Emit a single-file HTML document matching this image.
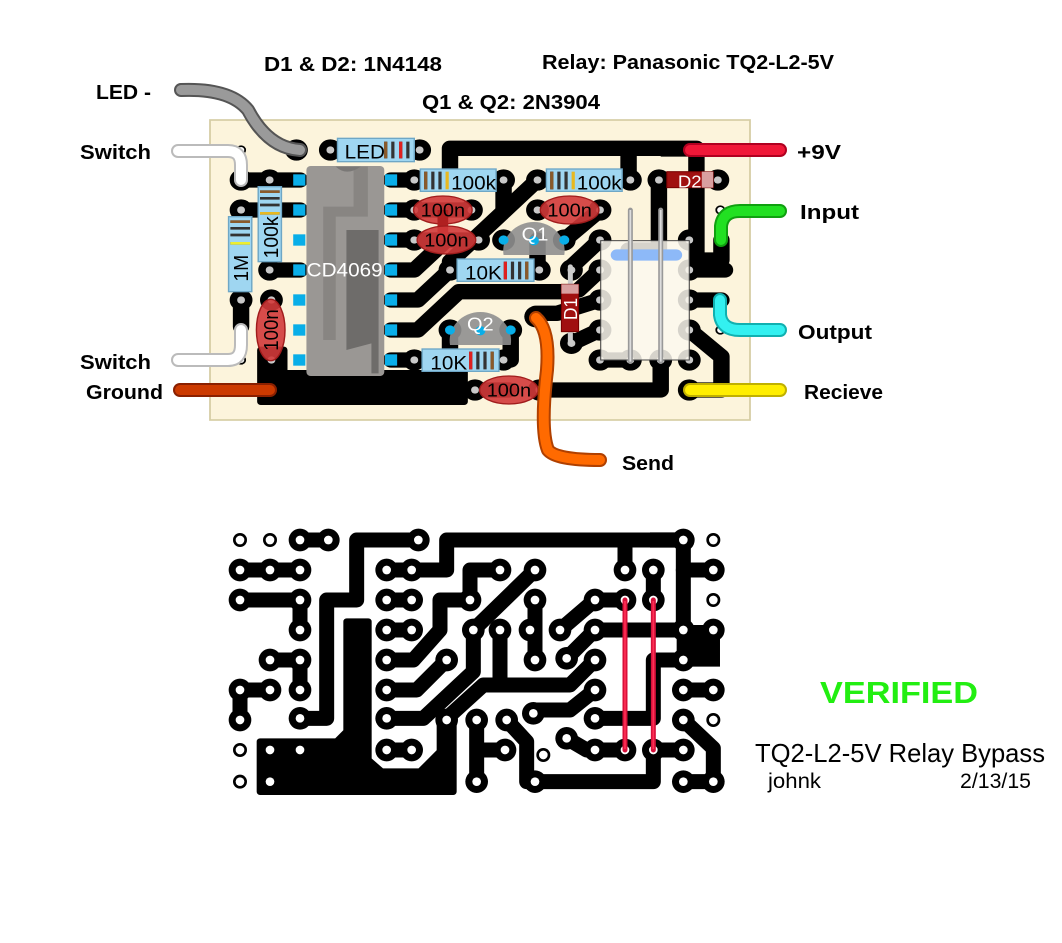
<!DOCTYPE html>
<html><head><meta charset="utf-8"><style>
html,body{margin:0;padding:0;background:#fff;width:1062px;height:943px;overflow:hidden}
svg{display:block}
.lb{font-family:"Liberation Sans",sans-serif;font-weight:bold;font-size:20px;fill:#000}
</style></head><body>
<svg width="1062" height="943" viewBox="0 0 1062 943" xmlns="http://www.w3.org/2000/svg">
<defs>
<g id="bp"><circle r="34" fill="#000"/><circle r="13" fill="#fff"/></g>
<g id="bs"><circle r="21" fill="#000"/><circle r="13" fill="#fff"/></g>
<g id="tp"><circle r="32" fill="#000"/><circle r="11" fill="#c8c8c8"/></g>
<g id="tw"><circle r="14" fill="#000"/><circle r="9" fill="#fff"/></g>
<rect id="pin" x="-17" y="-17" width="34" height="34" fill="#09aee8"/>
</defs>

<!-- ================= TOP BOARD ================= -->
<g transform="matrix(0.35714,0,0,0.33333,200,110)">
<rect x="28" y="30" width="1512" height="900" fill="#fcf4dc" stroke="#d6cda4" stroke-width="5"/>
<g fill="none" stroke="#000" stroke-width="46" stroke-linecap="round" stroke-linejoin="round">
<path d="M115 210H280M115 300H280M195 480H280"/>
<path d="M115 570V650"/>
<path d="M535 210H600M535 300H760M535 390H780"/>
<path d="M535 480H600L690 390M535 570H610L700 480M535 660H610L725 545H1020M535 750H600"/>
<path d="M945 210L700 455"/>
<path d="M700 210V115H1390V450H1460V390M1200 115V210"/>
<path d="M850 210V300M1285 210V420L1200 420"/>
<path d="M1120 390L1040 470V480M1120 480L1060 540M1120 570L1000 610H940"/>
<path d="M1120 660L1040 700M1120 750H1205M1290 750V840H950"/>
<path d="M1370 480H1470M1370 570H1460M1370 660L1460 740V840H1370"/>
<path d="M870 660V750M770 840H865M700 660V700L700 720"/>
<path d="M1020 390L1120 300"/>
<path d="M945 390V480"/>
</g>
<path d="M170 720H235V790H700V750H740V875H170Z" fill="#000" stroke="#000" stroke-width="20" stroke-linejoin="round"/>
<path d="M1290 100H1400V140H1290Z" fill="#000"/>
<g>
<use href="#tw" x="115" y="120"/><use href="#tp" x="270" y="120"/><use href="#tp" x="365" y="120"/><use href="#tp" x="615" y="120"/>
<use href="#tp" x="115" y="210"/><use href="#tp" x="195" y="210"/><use href="#tp" x="600" y="210"/><use href="#tp" x="850" y="210"/><use href="#tp" x="945" y="210"/><use href="#tp" x="1205" y="210"/><use href="#tp" x="1285" y="210"/><use href="#tp" x="1450" y="210"/>
<use href="#tp" x="115" y="300"/><use href="#tp" x="600" y="300"/><use href="#tp" x="760" y="300"/><use href="#tp" x="945" y="300"/><use href="#tp" x="1120" y="300"/><use href="#tw" x="1457" y="300"/>
<use href="#tp" x="600" y="390"/><use href="#tp" x="780" y="390"/><use href="#tp" x="850" y="390"/><use href="#tp" x="1020" y="390"/><use href="#tp" x="1120" y="390"/><use href="#tp" x="1370" y="390"/>
<use href="#tp" x="195" y="480"/><use href="#tp" x="700" y="480"/><use href="#tp" x="950" y="480"/><use href="#tp" x="1040" y="480"/><use href="#tp" x="1120" y="480"/><use href="#tp" x="1370" y="480"/>
<use href="#tp" x="115" y="570"/><use href="#tp" x="200" y="570"/><use href="#tp" x="1120" y="570"/><use href="#tp" x="1370" y="570"/><use href="#tp" x="940" y="620"/>
<use href="#tp" x="700" y="660"/><use href="#tp" x="870" y="660"/><use href="#tp" x="1120" y="660"/><use href="#tp" x="1370" y="660"/><use href="#tw" x="1457" y="660"/>
<use href="#tw" x="115" y="750"/><use href="#tp" x="200" y="750"/><use href="#tp" x="600" y="750"/><use href="#tp" x="850" y="750"/><use href="#tp" x="1040" y="700"/><use href="#tp" x="1120" y="750"/><use href="#tp" x="1205" y="750"/><use href="#tp" x="1290" y="750"/><use href="#tp" x="1370" y="750"/>
<use href="#tp" x="770" y="840"/><use href="#tp" x="950" y="840"/><use href="#tp" x="1370" y="840"/>
</g>
<!-- IC -->
<rect x="298" y="168" width="218" height="630" rx="12" fill="#9a9794"/>
<path d="M345 290H430V170H470V320H380V690H345Z" fill="#888582"/>
<path d="M410 360H500V790H480V700L410 720Z" fill="#6e6c6a"/>
<path d="M380 170Q410 200 450 170" fill="#7a7876"/>
<g>
<use href="#pin" x="278" y="210"/><use href="#pin" x="278" y="300"/><use href="#pin" x="278" y="390"/><use href="#pin" x="278" y="480"/><use href="#pin" x="278" y="570"/><use href="#pin" x="278" y="660"/><use href="#pin" x="278" y="750"/>
<use href="#pin" x="535" y="210"/><use href="#pin" x="535" y="300"/><use href="#pin" x="535" y="390"/><use href="#pin" x="535" y="480"/><use href="#pin" x="535" y="570"/><use href="#pin" x="535" y="660"/><use href="#pin" x="535" y="750"/>
</g>
<text x="405" y="500" font-family="Liberation Sans,sans-serif" font-size="58" fill="#fff" text-anchor="middle">CD4069</text>
<!-- Relay -->
<rect x="1122" y="392" width="248" height="358" fill="#fbf8ee" fill-opacity="0.85" stroke="#444" stroke-width="3"/>
<rect x="1150" y="418" width="200" height="34" rx="17" fill="#8db9f8"/>
<path d="M1205 300V755M1290 300V755" stroke="#999" stroke-width="14" stroke-linecap="round"/>
<path d="M1205 300V755M1290 300V755" stroke="#ddd" stroke-width="5"/>
<!-- transistors -->
<path d="M850 435A86 86 0 1 1 1020 435Z" fill="#8f8f8f" fill-opacity="0.9"/>
<circle cx="850" cy="390" r="14" fill="#09aee8"/><circle cx="935" cy="392" r="14" fill="#09aee8"/><circle cx="1020" cy="390" r="14" fill="#09aee8"/>
<text x="938" y="392" font-family="Liberation Sans,sans-serif" font-size="56" fill="#fff" text-anchor="middle">Q1</text>
<path d="M700 705A86 86 0 1 1 870 705Z" fill="#8f8f8f" fill-opacity="0.9"/>
<circle cx="700" cy="660" r="14" fill="#09aee8"/><circle cx="785" cy="662" r="14" fill="#09aee8"/><circle cx="870" cy="660" r="14" fill="#09aee8"/>
<text x="785" y="662" font-family="Liberation Sans,sans-serif" font-size="56" fill="#fff" text-anchor="middle">Q2</text>
<!-- resistors -->
<g font-family="Liberation Sans,sans-serif" font-size="58" fill="#000">
<rect x="385" y="85" width="215" height="70" fill="#9fd6f1" stroke="#6ea7c6" stroke-width="4"/>
<path d="M520 95V145M540 95V145M562 95V145M582 95V145" stroke-width="9" stroke="#333"/><path d="M562 95V145" stroke="#e02020" stroke-width="9"/><path d="M520 95V145" stroke="#8a5a2a" stroke-width="9"/>
<text x="405" y="145">LED</text>
<rect x="617" y="177" width="212" height="67" fill="#9fd6f1" stroke="#6ea7c6" stroke-width="4"/>
<path d="M632 185V238M652 185V238M672 185V238" stroke="#333" stroke-width="9"/><path d="M632 185V238" stroke="#8a5a2a" stroke-width="9"/><path d="M692 185V238" stroke="#e8b820" stroke-width="9"/>
<text x="703" y="238">100k</text>
<rect x="970" y="177" width="212" height="67" fill="#9fd6f1" stroke="#6ea7c6" stroke-width="4"/>
<path d="M985 185V238M1005 185V238M1025 185V238" stroke="#333" stroke-width="9"/><path d="M985 185V238" stroke="#8a5a2a" stroke-width="9"/><path d="M1045 185V238" stroke="#e8b820" stroke-width="9"/>
<text x="1055" y="238">100k</text>
<rect x="720" y="447" width="215" height="67" fill="#9fd6f1" stroke="#6ea7c6" stroke-width="4"/>
<path d="M855 455V508M875 455V508M895 455V508M915 455V508" stroke="#333" stroke-width="9"/><path d="M855 455V508" stroke="#e02020" stroke-width="9"/><path d="M915 455V508" stroke="#8a5a2a" stroke-width="9"/>
<text x="742" y="508">10K</text>
<rect x="622" y="717" width="215" height="67" fill="#9fd6f1" stroke="#6ea7c6" stroke-width="4"/>
<path d="M758 725V778M778 725V778M798 725V778M818 725V778" stroke="#333" stroke-width="9"/><path d="M758 725V778" stroke="#e02020" stroke-width="9"/><path d="M818 725V778" stroke="#8a5a2a" stroke-width="9"/>
<text x="645" y="778">10K</text>
<rect x="80" y="320" width="65" height="225" fill="#9fd6f1" stroke="#6ea7c6" stroke-width="4"/>
<path d="M85 335H140M85 355H140M85 375H140M85 400H140" stroke="#333" stroke-width="8"/><path d="M85 335H140" stroke="#8a5a2a" stroke-width="8"/><path d="M85 400H140" stroke="#eeee30" stroke-width="8"/>
<text transform="translate(135 515) rotate(-90)">1M</text>
<rect x="163" y="230" width="65" height="225" fill="#9fd6f1" stroke="#6ea7c6" stroke-width="4"/>
<path d="M168 245H223M168 265H223M168 285H223M168 310H223" stroke="#333" stroke-width="8"/><path d="M168 245H223" stroke="#8a5a2a" stroke-width="8"/><path d="M168 310H223" stroke="#e8b820" stroke-width="8"/>
<text transform="translate(218 445) rotate(-90)">100k</text>
</g>
<!-- caps -->
<g font-family="Liberation Sans,sans-serif" font-size="56" fill="#000" text-anchor="middle">
<ellipse cx="680" cy="300" rx="82" ry="42" fill="#d23a3a" fill-opacity="0.9" stroke="#a01c1c" stroke-width="4"/>
<rect x="665" y="300" width="30" height="90" fill="#b02020"/>
<ellipse cx="690" cy="390" rx="82" ry="42" fill="#d23a3a" fill-opacity="0.9" stroke="#a01c1c" stroke-width="4"/>
<text x="680" y="320">100n</text><text x="690" y="410">100n</text>
<ellipse cx="1035" cy="300" rx="82" ry="42" fill="#d23a3a" fill-opacity="0.9" stroke="#a01c1c" stroke-width="4"/>
<text x="1035" y="320">100n</text>
<ellipse cx="865" cy="840" rx="82" ry="42" fill="#d23a3a" fill-opacity="0.9" stroke="#a01c1c" stroke-width="4"/>
<text x="865" y="860">100n</text>
<ellipse cx="198" cy="660" rx="40" ry="92" fill="#d23a3a" fill-opacity="0.9" stroke="#a01c1c" stroke-width="4"/>
<text transform="translate(218 660) rotate(-90)">100n</text>
</g>
<!-- diodes -->
<path d="M1037 470V700" stroke="#ccc" stroke-width="14" stroke-linecap="round"/>
<rect x="1012" y="523" width="48" height="142" fill="#a01010" stroke="#700" stroke-width="3"/>
<rect x="1012" y="523" width="48" height="28" fill="#d9a0a0"/>
<text transform="translate(1055 630) rotate(-90)" font-family="Liberation Sans,sans-serif" font-size="52" fill="#fff">D1</text>
<rect x="1307" y="185" width="130" height="48" fill="#a01010" stroke="#700" stroke-width="3"/>
<rect x="1405" y="185" width="32" height="48" fill="#d9a0a0"/>
<text x="1338" y="232" font-family="Liberation Sans,sans-serif" font-size="52" fill="#fff">D2</text>
</g>

<!-- wires (screen coords) -->
<g fill="none" stroke-linecap="round" stroke-linejoin="round">
<path d="M181 90Q230 88 248 110Q268 148 300 150" stroke="#555" stroke-width="14"/>
<path d="M181 90Q230 88 248 110Q268 148 300 150" stroke="#9a9a9a" stroke-width="10"/>
<path d="M178 151H228Q241 151 241 165V180" stroke="#bbb" stroke-width="14"/>
<path d="M178 151H228Q241 151 241 165V180" stroke="#fff" stroke-width="10"/>
<path d="M178 360H228Q241 360 241 345V330" stroke="#bbb" stroke-width="14"/>
<path d="M178 360H228Q241 360 241 345V330" stroke="#fff" stroke-width="10"/>
<path d="M180 390H270" stroke="#8a2000" stroke-width="14"/><path d="M180 390H270" stroke="#cc3a00" stroke-width="10"/>
<path d="M690 150H780" stroke="#b00020" stroke-width="14"/><path d="M690 150H780" stroke="#f01838" stroke-width="10"/>
<path d="M721 240V226Q723 211 740 211H780" stroke="#10a010" stroke-width="14"/><path d="M721 240V226Q723 211 740 211H780" stroke="#22e022" stroke-width="10"/>
<path d="M720 300V315Q722 330 740 330H780" stroke="#10b0b0" stroke-width="14"/><path d="M720 300V315Q722 330 740 330H780" stroke="#33f0f0" stroke-width="10"/>
<path d="M690 390H780" stroke="#c0b000" stroke-width="14"/><path d="M690 390H780" stroke="#ffee00" stroke-width="10"/>
<path d="M536 318Q550 330 547 370Q540 430 548 450Q556 460 600 460" stroke="#b04000" stroke-width="14"/>
<path d="M536 318Q550 330 547 370Q540 430 548 450Q556 460 600 460" stroke="#ff6a00" stroke-width="10"/>
</g>

<!-- ================= BOTTOM BOARD ================= -->
<g transform="translate(220,515) scale(0.33333)">
<g fill="none" stroke="#000" stroke-width="45" stroke-linecap="round" stroke-linejoin="round">
<path d="M240 75H325"/>
<path d="M595 75H410V255H320V610H240"/>
<path d="M500 165H680V75H1390V345"/>
<path d="M1215 75V165"/>
<path d="M60 165H240"/>
<path d="M840 165H750V255H660V345L580 435H500"/>
<path d="M945 165L760 345V470L610 610H500"/>
<path d="M680 435L590 525H500"/>
<path d="M680 610L790 510H1050L1125 435M840 345V510"/>
<path d="M1300 165V255M1390 165H1480"/>
<path d="M60 255H240V345"/>
<path d="M500 255H575M500 345H575M500 705H575"/>
<path d="M945 255V435"/>
<path d="M1125 255L1020 345M1125 255H1215"/>
<path d="M1125 345H1390M1125 345L1040 430"/>
<path d="M150 435H240V525"/>
<path d="M60 525H150M60 525V615"/>
<path d="M1125 525L1050 585H940"/>
<path d="M1390 525H1480"/>
<path d="M1390 435H1300V610H1125"/>
<path d="M770 615V800M770 705H855"/>
<path d="M860 615L920 680V800H1300V705H1390"/>
<path d="M1040 670L1100 705H1215"/>
<path d="M1390 615L1480 700V800H1390"/>
</g>
<path d="M1290 52H1410V98H1290Z" fill="#000"/>
<path d="M1370 330H1500V455H1370Z" fill="#000"/>
<path d="M120 680H350L380 650V320H445V735L485 770H600L660 710V610H700V830H120Z" fill="#000" stroke="#000" stroke-width="20" stroke-linejoin="round"/>
<g>
<use href="#bp" x="240" y="75"/><use href="#bp" x="325" y="75"/><use href="#bp" x="595" y="75"/><use href="#bp" x="1390" y="75"/>
<use href="#bs" x="60" y="75"/><use href="#bs" x="150" y="75"/><use href="#bs" x="1480" y="75"/>
<use href="#bp" x="60" y="165"/><use href="#bp" x="150" y="165"/><use href="#bp" x="240" y="165"/><use href="#bp" x="500" y="165"/><use href="#bp" x="575" y="165"/><use href="#bp" x="840" y="165"/><use href="#bp" x="945" y="165"/><use href="#bp" x="1215" y="165"/><use href="#bp" x="1300" y="165"/><use href="#bp" x="1480" y="165"/>
<use href="#bp" x="60" y="255"/><use href="#bp" x="240" y="255"/><use href="#bp" x="500" y="255"/><use href="#bp" x="575" y="255"/><use href="#bp" x="750" y="255"/><use href="#bp" x="945" y="255"/><use href="#bp" x="1125" y="255"/><use href="#bp" x="1215" y="255"/><use href="#bp" x="1300" y="255"/><use href="#bs" x="1480" y="255"/>
<use href="#bp" x="240" y="345"/><use href="#bp" x="500" y="345"/><use href="#bp" x="575" y="345"/><use href="#bp" x="760" y="345"/><use href="#bp" x="840" y="345"/><use href="#bp" x="930" y="345"/><use href="#bp" x="1020" y="345"/><use href="#bp" x="1125" y="345"/><use href="#bp" x="1390" y="345"/><use href="#bp" x="1480" y="345"/>
<use href="#bp" x="150" y="435"/><use href="#bp" x="240" y="435"/><use href="#bp" x="500" y="435"/><use href="#bp" x="680" y="435"/><use href="#bp" x="945" y="435"/><use href="#bp" x="1040" y="430"/><use href="#bp" x="1125" y="435"/><use href="#bp" x="1390" y="435"/>
<use href="#bp" x="60" y="525"/><use href="#bp" x="150" y="525"/><use href="#bp" x="240" y="525"/><use href="#bp" x="500" y="525"/><use href="#bp" x="1125" y="525"/><use href="#bp" x="1390" y="525"/><use href="#bp" x="1480" y="525"/>
<use href="#bp" x="60" y="615"/><use href="#bp" x="240" y="610"/><use href="#bp" x="500" y="610"/><use href="#bp" x="680" y="615"/><use href="#bp" x="770" y="615"/><use href="#bp" x="860" y="615"/><use href="#bp" x="940" y="595"/><use href="#bp" x="1125" y="610"/><use href="#bp" x="1390" y="615"/><use href="#bs" x="1480" y="615"/>
<use href="#bs" x="60" y="705"/><use href="#bp" x="150" y="705"/><use href="#bp" x="240" y="705"/><use href="#bp" x="500" y="705"/><use href="#bp" x="575" y="705"/><use href="#bp" x="855" y="705"/><use href="#bs" x="970" y="720"/><use href="#bp" x="1040" y="670"/><use href="#bp" x="1125" y="705"/><use href="#bp" x="1215" y="705"/><use href="#bp" x="1300" y="705"/><use href="#bp" x="1390" y="705"/>
<use href="#bs" x="60" y="800"/><use href="#bp" x="150" y="800"/><use href="#bp" x="770" y="800"/><use href="#bp" x="945" y="800"/><use href="#bp" x="1390" y="800"/><use href="#bp" x="1480" y="800"/>
</g>
<path d="M1215 255V705M1300 255V705" stroke="#d8103a" stroke-width="15" stroke-linecap="round"/>
<path d="M1215 258V702M1300 258V702" stroke="#ff3055" stroke-width="5"/>
</g>

<!-- labels -->
<text class="lb" x="96" y="99" textLength="55" lengthAdjust="spacingAndGlyphs">LED -</text>
<text class="lb" x="80" y="159" textLength="71" lengthAdjust="spacingAndGlyphs">Switch</text>
<text class="lb" x="80" y="369" textLength="71" lengthAdjust="spacingAndGlyphs">Switch</text>
<text class="lb" x="86" y="399" textLength="77" lengthAdjust="spacingAndGlyphs">Ground</text>
<text class="lb" x="264" y="71" textLength="178" lengthAdjust="spacingAndGlyphs">D1 &amp; D2: 1N4148</text>
<text class="lb" x="542" y="69" textLength="292" lengthAdjust="spacingAndGlyphs">Relay: Panasonic TQ2-L2-5V</text>
<text class="lb" x="422" y="109" textLength="178" lengthAdjust="spacingAndGlyphs">Q1 &amp; Q2: 2N3904</text>
<text class="lb" x="797" y="159" textLength="44" lengthAdjust="spacingAndGlyphs">+9V</text>
<text class="lb" x="800" y="219" textLength="59" lengthAdjust="spacingAndGlyphs">Input</text>
<text class="lb" x="798" y="339" textLength="74" lengthAdjust="spacingAndGlyphs">Output</text>
<text class="lb" x="804" y="399" textLength="79" lengthAdjust="spacingAndGlyphs">Recieve</text>
<text class="lb" x="622" y="470" textLength="52" lengthAdjust="spacingAndGlyphs">Send</text>
<text x="820" y="703" font-family="Liberation Sans,sans-serif" font-weight="bold" font-size="31" fill="#22ee11" textLength="158" lengthAdjust="spacingAndGlyphs">VERIFIED</text>
<text x="755" y="762" font-family="Liberation Sans,sans-serif" font-size="26" fill="#000" textLength="290" lengthAdjust="spacingAndGlyphs">TQ2-L2-5V Relay Bypass</text>
<text x="768" y="788" font-family="Liberation Sans,sans-serif" font-size="21" fill="#000" textLength="53" lengthAdjust="spacingAndGlyphs">johnk</text>
<text x="960" y="788" font-family="Liberation Sans,sans-serif" font-size="21" fill="#000" textLength="71" lengthAdjust="spacingAndGlyphs">2/13/15</text>
</svg>
</body></html>
